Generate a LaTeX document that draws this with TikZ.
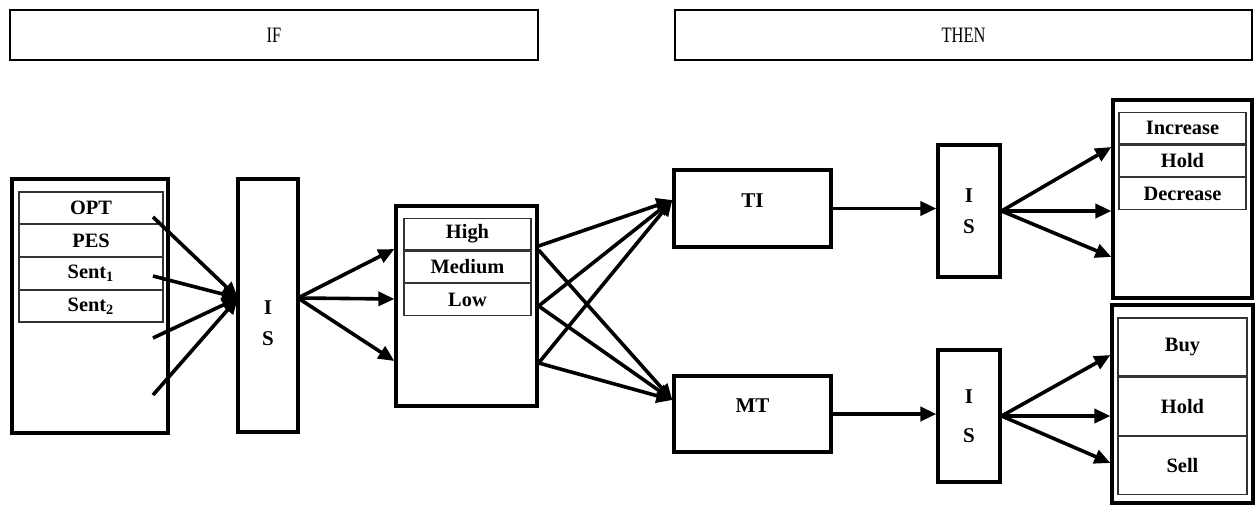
\documentclass[tikz,border=0pt]{standalone}
\usepackage{fontspec}
\setmainfont{Liberation Serif}
\newfontfamily\headfont[FakeStretch=0.75]{Liberation Serif}
\usetikzlibrary{arrows.meta,positioning}
\tikzset{
  outerbox/.style={rectangle,draw=black,line width=1.6pt,inner sep=0pt},
  headbox/.style={rectangle,draw=black,line width=1.3pt,minimum height=25pt,font=\headfont\fontsize{11}{13}\selectfont},
  listitem/.style={rectangle,draw=black!80,line width=0.6pt,inner sep=0pt,minimum width=#1,minimum height=15.8pt,font=\bfseries\fontsize{10.2}{12}\selectfont},
  listitem/.default=63.5pt,
  istext/.style={align=center,inner sep=0pt,font=\bfseries\fontsize{10.5}{15.5}\selectfont},
  arr/.style={-{Triangle[length=8pt,width=7pt]},line width=1.8pt}
}

\begin{document}
\begin{tikzpicture}[x=0.5pt,y=-0.5pt]
\useasboundingbox (0,0) rectangle (1258,505);
% \draw[help lines] (0,0) grid (1258,505);
\node[headbox,minimum width=264pt] (ifbox) at (274,35) {IF};
\node[headbox,minimum width=288.5pt] (thenbox) at (963.5,35) {THEN};
%
\node[outerbox,minimum width=78pt,minimum height=127pt] (inputs) at (90,306) {};
\node[listitem=72pt] (opt) at (91,207.75) {OPT};
\node[listitem=72pt,below=0pt of opt] (pes) {PES};
\node[listitem=72pt,below=0pt of pes] (sent1) {Sent\textsubscript{1}};
\node[listitem=72pt,below=0pt of sent1] (sent2) {Sent\textsubscript{2}};
%
\node[outerbox,minimum width=30pt,minimum height=126.5pt] (is1) at (268,305.5) {};
\node[istext] (is1txt) at ([yshift=-9pt]is1.center) {I\\S};
%
\node[outerbox,minimum width=70.5pt,minimum height=100pt] (level) at (466.5,306) {};
\node[listitem] (high) at (467.5,234) {High};
\node[listitem,below=0pt of high] (medium) {Medium};
\node[listitem,below=0pt of medium] (low) {Low};
%
\node[outerbox,minimum width=78.5pt,minimum height=38.5pt,text depth=8pt,font=\bfseries\fontsize{10.5}{12}\selectfont] (ti) at (752.5,208.5) {TI};
\node[outerbox,minimum width=78.5pt,minimum height=38pt,text depth=8pt,font=\bfseries\fontsize{10.5}{12}\selectfont] (mt) at (752.5,414) {MT};
%
\node[outerbox,minimum width=31pt,minimum height=66pt] (is2) at (969,211) {};
\node[istext] (is2txt) at (is2.center) {I\\S};
\node[outerbox,minimum width=31pt,minimum height=66pt] (is3) at (969,416) {};
\node[istext] (is3txt) at (is3.center) {I\\[4pt]S};
%
\node[outerbox,minimum width=69.5pt,minimum height=99pt] (trend) at (1182.5,199) {};
\node[listitem] (increase) at (1182.5,128) {Increase};
\node[listitem,below=0pt of increase] (hold) {Hold};
\node[listitem,below=0pt of hold] (decrease) {Decrease};
%
\node[outerbox,minimum width=70.5pt,minimum height=99pt] (signal) at (1182.5,404) {};
\node[listitem=64.5pt,minimum height=29pt] (buy) at (1182.5,347) {Buy};
\node[listitem=64.5pt,minimum height=29pt,below=0pt of buy] (keep) {Hold};
\node[listitem=64.5pt,minimum height=29pt,below=0pt of keep] (sell) {Sell};
%
\coordinate (in1) at (153,217);
\coordinate (in2) at (153,276);
\coordinate (in3) at (153,338);
\coordinate (in4) at (153,395);
\coordinate (is1in) at (238,298);
\coordinate (is1out) at (298,298);
\path[arr] (in1) edge (is1in);
\path[arr] (in2) edge (is1in);
\path[arr] (in3) edge (is1in);
\path[arr] (in4) edge (is1in);
%
\path[arr] (is1out) edge ([yshift=28.5pt]level.west);
\path[arr] (is1out) edge ([yshift=3.5pt]level.west);
\path[arr] (is1out) edge ([yshift=-27.5pt]level.west);
%
\path[arr] ([yshift=30pt]level.east) edge ([yshift=4.25pt]ti.west);
\path[arr] (level.east) edge ([yshift=4.25pt]ti.west);
\path[arr] ([yshift=-28.5pt]level.east) edge ([yshift=4.25pt]ti.west);
\path[arr] ([yshift=28pt]level.east) edge ([yshift=7pt]mt.west);
\path[arr] (level.east) edge ([yshift=7pt]mt.west);
\path[arr] ([yshift=-28.5pt]level.east) edge ([yshift=7pt]mt.west);
%
\path[arr] (ti.east) edge (is2.west |- ti.east);
\path[arr] (mt.east) edge (is3.west |- mt.east);
%
\path[arr] (is2.east) edge ([yshift=26pt]trend.west);
\path[arr] (is2.east) edge (trend.west |- is2.east);
\path[arr] (is2.east) edge ([yshift=-29pt]trend.west);
\path[arr] (is3.east) edge ([yshift=24.5pt]signal.west);
\path[arr] (is3.east) edge (signal.west |- is3.east);
\path[arr] (is3.east) edge ([yshift=-29.5pt]signal.west);
\end{tikzpicture}
\end{document}
